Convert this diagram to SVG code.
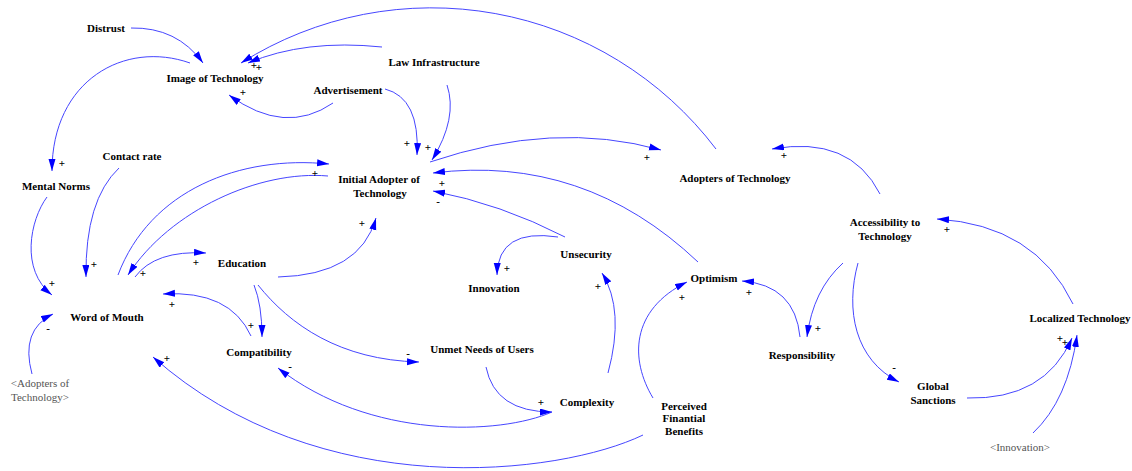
<svg xmlns="http://www.w3.org/2000/svg" width="1132" height="471" viewBox="0 0 1132 471">
<style>
.n{font-family:"Liberation Serif","Times New Roman",serif;font-size:11px;font-weight:bold;fill:#000;text-anchor:middle}
.g{font-family:"Liberation Serif","Times New Roman",serif;font-size:11px;fill:#555;text-anchor:middle}
.p{font-family:"Liberation Serif","Times New Roman",serif;font-size:11px;font-weight:bold;fill:#000;text-anchor:middle}
.l{fill:none;stroke:#4646ff;stroke-width:1;marker-end:url(#ah)}
</style>
<defs>
<marker id="ah" markerWidth="12" markerHeight="8" refX="12" refY="3.5" orient="auto" markerUnits="userSpaceOnUse">
<path d="M0,0 L12,3.5 L0,7 z" fill="#0000ff"/>
</marker>
</defs>
<rect width="1132" height="471" fill="#fff"/>
<g id="connectors">
<path class="l" d="M131,28 Q177,27 203,63"/>
<path class="l" d="M382,47 Q305,39 248,63"/>
<path class="l" d="M716,149 A357,357 0 0,0 241,63"/>
<path class="l" d="M333,103 Q285,136 229,95"/>
<path class="l" d="M385,89 Q420,98 417,155"/>
<path class="l" d="M447,85 Q458,118 432,160"/>
<path class="l" d="M430,162 Q554,120 661,150"/>
<path class="l" d="M190,63 C125,40 52,80 52,171"/>
<path class="l" d="M698,262 Q584,154 433,173"/>
<path class="l" d="M565,237 Q501,204 433,191"/>
<path class="l" d="M558,237 Q498,228 497,275"/>
<path class="l" d="M118,275 C150,190 240,155 329,164"/>
<path class="l" d="M328,176 C260,170 170,210 128,275"/>
<path class="l" d="M135,277 Q155,250 206,253"/>
<path class="l" d="M119,168 Q85,200 86,277"/>
<path class="l" d="M47,197 C30,220 20,270 52,295"/>
<path class="l" d="M278,277 Q360,275 376,218"/>
<path class="l" d="M254,285 Q262,305 262,337"/>
<path class="l" d="M251,336 Q230,290 163,294"/>
<path class="l" d="M258,285 C290,325 340,360 419,362"/>
<path class="l" d="M32,374 Q20,330 53,314"/>
<path class="l" d="M552,412 C500,435 370,440 278,368"/>
<path class="l" d="M486,367 Q495,412 552,412"/>
<path class="l" d="M608,373 Q625,310 602,273"/>
<path class="l" d="M643,435 C560,475 320,505 153,357"/>
<path class="l" d="M653,398 C630,360 630,310 687,282"/>
<path class="l" d="M800,337 Q795,285 742,281"/>
<path class="l" d="M880,194 Q850,135 772,149"/>
<path class="l" d="M843,263 Q813,290 807,337"/>
<path class="l" d="M858,263 C845,310 855,360 899,382"/>
<path class="l" d="M967,398 Q1045,400 1072,338"/>
<path class="l" d="M1033,433 Q1068,400 1077,335"/>
<path class="l" d="M1073,304 Q1035,225 937,219"/>
</g>
<g id="polarities">
<text class="p" x="254" y="69">+</text>
<text class="p" x="259" y="71">+</text>
<text class="p" x="243" y="96">+</text>
<text class="p" x="62" y="167">+</text>
<text class="p" x="52" y="287">+</text>
<text class="p" x="94" y="268">+</text>
<text class="p" x="143" y="277">+</text>
<text class="p" x="196" y="266">+</text>
<text class="p" x="315" y="177">+</text>
<text class="p" x="362" y="227">+</text>
<text class="p" x="172" y="308">+</text>
<text class="p" x="251" y="329">+</text>
<text class="p" x="48" y="332">-</text>
<text class="p" x="167" y="362">+</text>
<text class="p" x="290" y="370">-</text>
<text class="p" x="407" y="147">+</text>
<text class="p" x="428" y="151">+</text>
<text class="p" x="647" y="161">+</text>
<text class="p" x="442" y="187">+</text>
<text class="p" x="438" y="205">-</text>
<text class="p" x="507" y="272">+</text>
<text class="p" x="408" y="357">-</text>
<text class="p" x="541" y="406">+</text>
<text class="p" x="598" y="290">+</text>
<text class="p" x="682" y="301">+</text>
<text class="p" x="749" y="296">+</text>
<text class="p" x="784" y="159">+</text>
<text class="p" x="947" y="233">+</text>
<text class="p" x="818" y="332">+</text>
<text class="p" x="894" y="371">-</text>
<text class="p" x="1060" y="342">+</text>
<text class="p" x="1065" y="346">+</text>
</g>
<g id="distrust"><text class="n" x="106" y="32">Distrust</text></g>
<g id="image-of-technology"><text class="n" x="215" y="82">Image of Technology</text></g>
<g id="law-infrastructure"><text class="n" x="434" y="66">Law Infrastructure</text></g>
<g id="advertisement"><text class="n" x="348" y="94">Advertisement</text></g>
<g id="initial-adopter"><text class="n" x="379" y="183">Initial Adopter of</text><text class="n" x="380" y="197">Technology</text></g>
<g id="adopters-of-technology"><text class="n" x="735" y="182">Adopters of Technology</text></g>
<g id="mental-norms"><text class="n" x="56" y="190">Mental Norms</text></g>
<g id="contact-rate"><text class="n" x="132" y="160">Contact rate</text></g>
<g id="education"><text class="n" x="242" y="267">Education</text></g>
<g id="word-of-mouth"><text class="n" x="107" y="321">Word of Mouth</text></g>
<g id="compatibility"><text class="n" x="259" y="356">Compatibility</text></g>
<g id="adopters-shadow"><text class="g" x="40" y="387">&lt;Adopters of</text><text class="g" x="40" y="401">Technology&gt;</text></g>
<g id="unsecurity"><text class="n" x="586" y="258">Unsecurity</text></g>
<g id="innovation"><text class="n" x="494" y="292">Innovation</text></g>
<g id="optimism"><text class="n" x="714" y="282">Optimism</text></g>
<g id="unmet-needs"><text class="n" x="482" y="353">Unmet Needs of Users</text></g>
<g id="complexity"><text class="n" x="587" y="406">Complexity</text></g>
<g id="perceived-financial-benefits"><text class="n" x="684" y="410">Perceived</text><text class="n" x="684" y="422">Finantial</text><text class="n" x="684" y="435">Benefits</text></g>
<g id="accessibility"><text class="n" x="885" y="226">Accessibility to</text><text class="n" x="885" y="240">Technology</text></g>
<g id="responsibility"><text class="n" x="802" y="359">Responsibility</text></g>
<g id="global-sanctions"><text class="n" x="933" y="390">Global</text><text class="n" x="933" y="404">Sanctions</text></g>
<g id="localized-technology"><text class="n" x="1080" y="322">Localized Technology</text></g>
<g id="innovation-shadow"><text class="g" x="1020" y="451">&lt;Innovation&gt;</text></g>
</svg>
